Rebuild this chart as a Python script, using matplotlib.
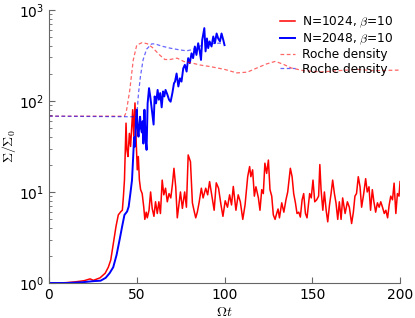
import matplotlib

matplotlib.use("Agg")
import matplotlib.pyplot as plt
from matplotlib.ticker import LogLocator, NullFormatter

plt.rcParams["font.family"] = "DejaVu Sans"
plt.rcParams["mathtext.fontset"] = "cm"

# N=1024, beta=10
t_1024 = [0, 5, 10, 15, 20, 23.4, 25.3, 29.1, 32, 33.8, 35.2, 36.7, 38.2, 39.5, 41, 41.8,
          42.4, 43, 43.9, 44.4, 45, 45.8, 46.5, 47.7, 48.3, 49, 49.6, 50.3, 50.9, 51.5,
          52.2, 53.1, 54, 54.6, 55.4, 56, 57, 57.9, 58.8, 59.8, 60.7, 61.7, 62.6, 63.5,
          64.5, 65.4, 66.4, 67.4, 68.4, 69.4, 70.3, 71.2, 72.2, 73.1, 74, 74.9, 76, 77.3,
          78.3, 79.3, 80.6, 81.7, 82.6, 83.6, 84.5, 85.5, 86.8, 87.8, 89.3, 90.4, 91.5,
          92.8, 94.1, 95.3, 96.6, 98, 99.1, 100.4, 101.7, 102.9, 104, 105, 106.5, 107.8,
          109, 110.4, 111.7, 113.2, 114.3, 115, 116, 117, 117.9, 119.3, 120.2, 121.2,
          122.1, 123, 124, 125, 125.9, 126.9, 127.8, 128.8, 129.7, 130.5, 131.3, 132.6,
          133.8, 135, 136, 137.5, 138.5, 139.4, 140.4, 141.3, 142.3, 143.2, 144.2, 145.1,
          146.1, 147, 148.5, 149.4, 150.4, 151.4, 152.5, 153.6, 154.3, 155, 156, 156.9,
          157.9, 158.8, 159.8, 160.7, 161.6, 162.6, 163.5, 164.5, 165.4, 166.4, 167.3,
          168.7, 170, 171.1, 172.4, 173.4, 174.3, 175.2, 176.2, 177.2, 178.1, 179.2, 180.4,
          181.3, 182.3, 183.2, 184.2, 185.1, 186.1, 187.1, 188.1, 189, 190, 191, 191.9,
          192.9, 193.8, 194.7, 195.7, 196.6, 197.6, 198.5, 199.4, 200]
s_1024 = [1.0, 1.0, 1.01, 1.03, 1.06, 1.11, 1.07, 1.14, 1.28, 1.49, 1.79, 2.73, 4.2, 5.6, 6.1, 6.3,
          8.9, 13.5, 57, 29, 24.5, 44, 31.6, 80, 41, 95, 40, 17.5, 24.5, 13.6,
          10.6, 9.6, 6.8, 5.0, 6.0, 5.2, 6.3, 10, 6.6, 5.4, 7.8, 5.8, 7.8, 5.8,
          13.5, 9.3, 11, 7.8, 9.6, 8.6, 12, 18.2, 11.4, 5.2, 7.2, 10, 6.6, 10,
          6.8, 25.5, 21.5, 7.6, 6.3, 5.2, 6.0, 7.6, 11, 8.6, 11, 9.3, 13,
          9, 6.3, 12.6, 11, 7.2, 5.4, 8, 6.8, 9.3, 7.2, 11.5, 6.3, 9.3,
          7.8, 5.0, 7.2, 14.7, 19, 14.7, 17.5, 9, 11.4, 8.6, 6.3, 10.6,
          9.6, 20.7, 16, 22.4, 10.6, 9, 5.6, 5.0, 5.8, 6.5, 5.2, 7.6,
          6, 8.2, 10, 18.2, 14.7, 9.6, 7.6, 5.8, 6, 5.3, 8.2, 9.6,
          5.8, 5.2, 9.6, 8.6, 13.5, 7.8, 8.2, 9, 20, 10.6, 6.3, 10,
          6.3, 4.7, 7.2, 9.6, 13.5, 9.6, 7.6, 5, 7.8, 5, 8.6,
          5.8, 7.8, 6.8, 4.5, 6, 9, 9.6, 14.7, 11.4, 6.8, 9.3, 14,
          10, 11.4, 6.3, 10.6, 7.8, 6, 7.6, 6.8, 7.8, 6.8, 5.8, 6.3,
          5.2, 7.2, 9, 8.2, 12.5, 5.8, 9.6, 9, 13]

# N=2048, beta=10
t_2048 = [0, 10, 19, 25.7, 29.4, 32.3, 34.5, 36.6, 38.5, 40.4, 41.7, 43, 44.5, 45.4, 46.4,
          47.3, 48, 48.5, 49, 49.5, 50, 50.5, 51, 51.5, 51.9, 52.4, 52.9, 53.4, 53.8, 54.4,
          55, 55.6, 56.2, 57, 57.7, 58.6, 59.6, 60.2, 61, 61.9, 62.6, 63.4, 64.2, 65, 65.7,
          66.4, 67.4, 68.4, 69.3, 70.3, 71.2, 71.8, 72.7, 73.7, 74.6, 75.5, 76.5, 77.4,
          78.4, 79.3, 80.2, 81.2, 82.1, 83.1, 84, 85, 85.9, 86.6, 87.3, 88.5, 89.2, 90,
          90.7, 91.5, 92.6, 93.6, 94.5, 95.5, 96.4, 97.4, 98.3, 99.3, 100]
s_2048 = [1.0, 1.0, 1.02, 1.05, 1.06, 1.14, 1.28, 1.49, 2.03, 3.1, 4.2, 5.6, 6.1, 6.9, 9.7,
          13.5, 25, 40, 31.5, 60, 80, 50, 40.5, 55, 67, 50, 45, 60, 34, 80,
          40, 29, 94, 138, 112, 80, 55, 112, 94, 132, 103, 122, 85, 127, 112,
          132, 118, 103, 98, 122, 156, 163, 200, 144, 177, 163, 228, 249,
          210, 295, 260, 333, 295, 396, 320, 430, 350, 282, 467, 630, 350, 485,
          380, 450, 396, 510, 430, 550, 485, 450, 550, 467, 410]

# Roche density curves
t_roche_1024 = [0, 43, 44, 46, 48, 50, 53, 56, 59, 63, 66, 69, 73, 77, 81, 86, 92, 100,
                107, 113, 118, 124, 129, 134, 138, 145, 155, 165, 175, 185, 200]
roche_1024 = [68, 68, 75, 130, 280, 410, 436, 425, 385, 320, 285, 285, 295, 270, 262, 248,
              238, 222, 203, 207, 228, 255, 272, 250, 230, 215, 208, 215, 222, 215, 218]
t_roche_2048 = [0, 48, 50, 51, 52.1, 53.6, 55.6, 58.5, 60.4, 64.2, 68.9, 74.6, 78.4, 82,
                86, 90, 95, 100]
roche_2048 = [68, 67, 67, 121, 185, 282, 370, 423, 423, 400, 380, 363, 355, 367, 400, 420,
              430, 430]

fig = plt.figure(figsize=(4.15, 3.18), dpi=100, facecolor="white")
ax = fig.add_axes([0.118, 0.110, 0.846, 0.859])

ax.plot(t_1024, s_1024, color="#ff0000", lw=1.1, label=r"N=1024, $\beta$=10")
ax.plot(t_2048, s_2048, color="#0000ff", lw=1.4, label=r"N=2048, $\beta$=10")
ax.plot(t_roche_1024, roche_1024, color="#ff0000", lw=0.9, alpha=0.6, ls=(0, (3, 2)),
        label="Roche density")
ax.plot(t_roche_2048, roche_2048, color="#0000ff", lw=0.9, alpha=0.6, ls=(0, (3, 2)),
        label="Roche density")

ax.set_yscale("log")
ax.set_xlim(0, 200)
ax.set_ylim(1, 1000)
ax.set_xticks([0, 50, 100, 150, 200])
ax.yaxis.set_minor_locator(LogLocator(base=10, subs=range(2, 10)))
ax.yaxis.set_minor_formatter(NullFormatter())

for side in ["top", "right"]:
    ax.spines[side].set_visible(False)
for side in ["left", "bottom"]:
    ax.spines[side].set_color("#666666")
ax.tick_params(which="both", direction="in", color="#666666", labelsize=10)
ax.tick_params(which="major", length=4)
ax.tick_params(which="minor", length=2)

ax.set_xlabel(r"$\Omega t$", fontsize=10, labelpad=2)
ax.set_ylabel(r"$\Sigma/\Sigma_0$", fontsize=10)
ax.yaxis.set_label_coords(-0.088, 0.5)

ax.legend(loc="upper right", frameon=False, fontsize=8.7, handlelength=1.3,
          handletextpad=0.55, labelspacing=0.12, borderaxespad=0.0,
          bbox_to_anchor=(0.995, 1.0))

fig.savefig("out.png", dpi=100)
